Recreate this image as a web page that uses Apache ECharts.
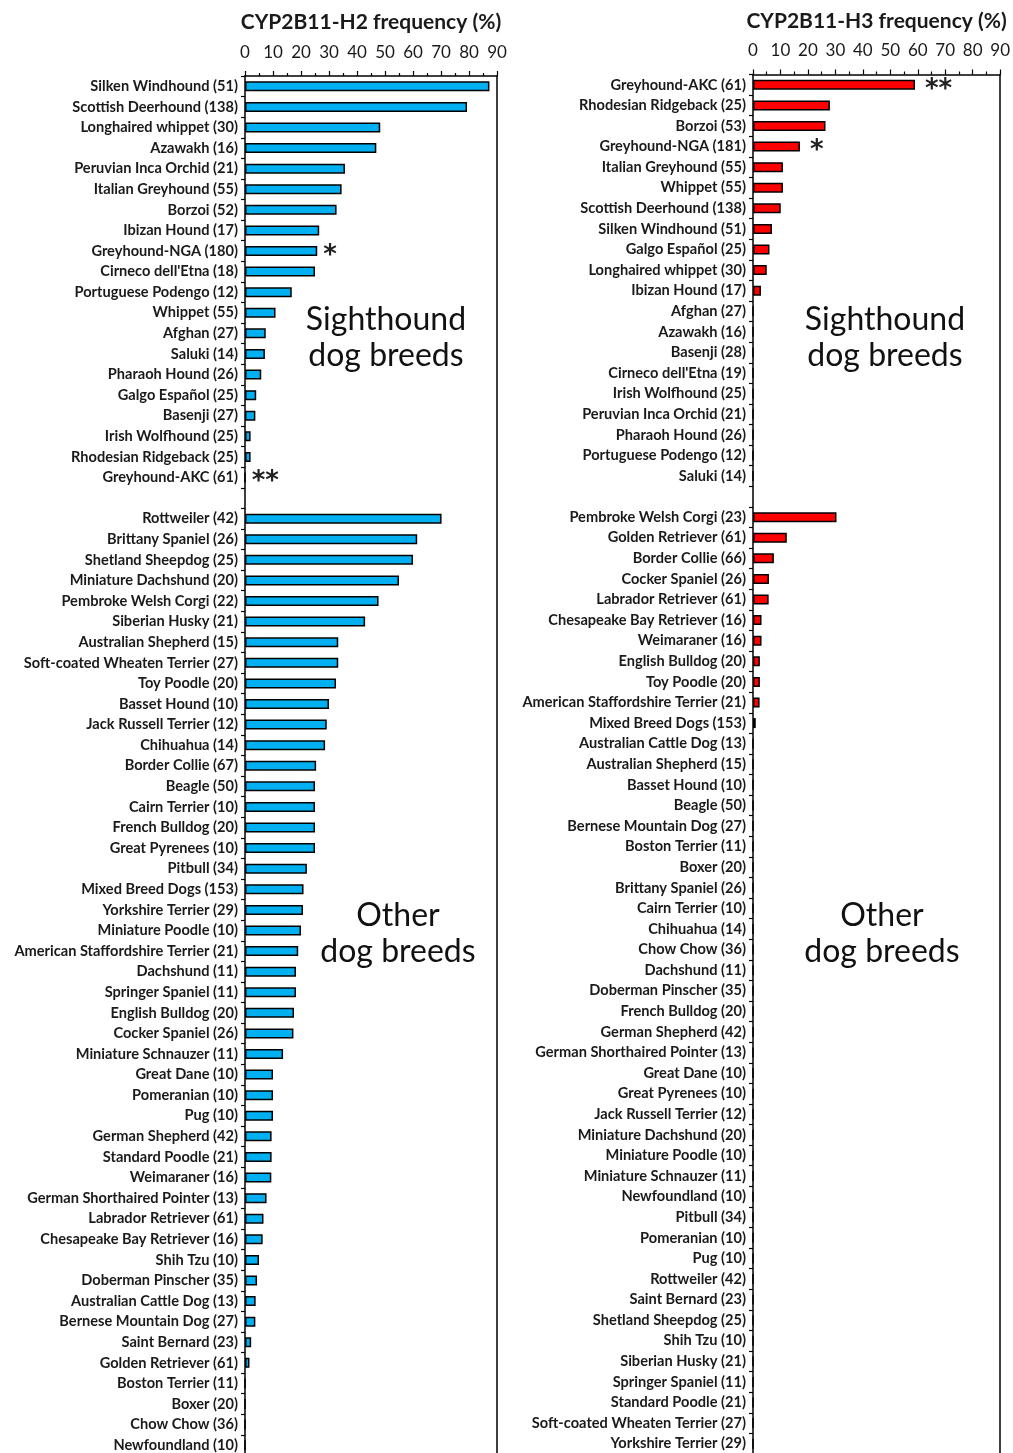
<!DOCTYPE html>
<html><head><meta charset="utf-8">
<script src="https://cdn.jsdelivr.net/npm/echarts/dist/echarts.min.js"></script>
<style>html,body{margin:0;padding:0;background:#fff;overflow:hidden}#c{width:1013px;height:1460px}</style>
</head><body><div id="c"></div><script>
// ---- Data: CYP2B11-H2 ----
const h2SightCats = ['Silken Windhound (51)','Scottish Deerhound (138)','Longhaired whippet (30)','Azawakh (16)','Peruvian Inca Orchid (21)','Italian Greyhound (55)','Borzoi (52)','Ibizan Hound (17)','Greyhound-NGA (180)',"Cirneco dell'Etna (18)",'Portuguese Podengo (12)','Whippet (55)','Afghan (27)','Saluki (14)','Pharaoh Hound (26)','Galgo Español (25)','Basenji (27)','Irish Wolfhound (25)','Rhodesian Ridgeback (25)','Greyhound-AKC (61)'];
const h2SightVals = [87.3,79.3,48.3,46.9,35.7,34.5,32.7,26.5,25.8,25.0,16.7,10.9,7.4,7.1,5.8,4.0,3.7,2.0,2.0,0];
const h2OtherCats = ['Rottweiler (42)','Brittany Spaniel (26)','Shetland Sheepdog (25)','Miniature Dachshund (20)','Pembroke Welsh Corgi (22)','Siberian Husky (21)','Australian Shepherd (15)','Soft-coated Wheaten Terrier (27)','Toy Poodle (20)','Basset Hound (10)','Jack Russell Terrier (12)','Chihuahua (14)','Border Collie (67)','Beagle (50)','Cairn Terrier (10)','French Bulldog (20)','Great Pyrenees (10)','Pitbull (34)','Mixed Breed Dogs (153)','Yorkshire Terrier (29)','Miniature Poodle (10)','American Staffordshire Terrier (21)','Dachshund (11)','Springer Spaniel (11)','English Bulldog (20)','Cocker Spaniel (26)','Miniature Schnauzer (11)','Great Dane (10)','Pomeranian (10)','Pug (10)','German Shepherd (42)','Standard Poodle (21)','Weimaraner (16)','German Shorthaired Pointer (13)','Labrador Retriever (61)','Chesapeake Bay Retriever (16)','Shih Tzu (10)','Doberman Pinscher (35)','Australian Cattle Dog (13)','Bernese Mountain Dog (27)','Saint Bernard (23)','Golden Retriever (61)','Boston Terrier (11)','Boxer (20)','Chow Chow (36)','Newfoundland (10)'];
const h2OtherVals = [70.2,61.5,60.0,55.0,47.7,42.9,33.3,33.3,32.5,30.0,29.2,28.6,25.4,25.0,25.0,25.0,25.0,22.1,20.9,20.7,20.0,19.0,18.2,18.2,17.5,17.3,13.6,10.0,10.0,10.0,9.5,9.5,9.4,7.7,6.6,6.3,5.0,4.3,3.8,3.7,2.2,1.6,0,0,0,0];
const h2Marks = {'Greyhound-NGA (180)':'*','Greyhound-AKC (61)':'**'};

// ---- Data: CYP2B11-H3 ----
const h3SightCats = ['Greyhound-AKC (61)','Rhodesian Ridgeback (25)','Borzoi (53)','Greyhound-NGA (181)','Italian Greyhound (55)','Whippet (55)','Scottish Deerhound (138)','Silken Windhound (51)','Galgo Español (25)','Longhaired whippet (30)','Ibizan Hound (17)','Afghan (27)','Azawakh (16)','Basenji (28)',"Cirneco dell'Etna (19)",'Irish Wolfhound (25)','Peruvian Inca Orchid (21)','Pharaoh Hound (26)','Portuguese Podengo (12)','Saluki (14)'];
const h3SightVals = [59.0,28.0,26.4,17.1,10.9,10.9,10.1,6.9,6.0,5.0,2.9,0,0,0,0,0,0,0,0,0];
const h3OtherCats = ['Pembroke Welsh Corgi (23)','Golden Retriever (61)','Border Collie (66)','Cocker Spaniel (26)','Labrador Retriever (61)','Chesapeake Bay Retriever (16)','Weimaraner (16)','English Bulldog (20)','Toy Poodle (20)','American Staffordshire Terrier (21)','Mixed Breed Dogs (153)','Australian Cattle Dog (13)','Australian Shepherd (15)','Basset Hound (10)','Beagle (50)','Bernese Mountain Dog (27)','Boston Terrier (11)','Boxer (20)','Brittany Spaniel (26)','Cairn Terrier (10)','Chihuahua (14)','Chow Chow (36)','Dachshund (11)','Doberman Pinscher (35)','French Bulldog (20)','German Shepherd (42)','German Shorthaired Pointer (13)','Great Dane (10)','Great Pyrenees (10)','Jack Russell Terrier (12)','Miniature Dachshund (20)','Miniature Poodle (10)','Miniature Schnauzer (11)','Newfoundland (10)','Pitbull (34)','Pomeranian (10)','Pug (10)','Rottweiler (42)','Saint Bernard (23)','Shetland Sheepdog (25)','Shih Tzu (10)','Siberian Husky (21)','Springer Spaniel (11)','Standard Poodle (21)','Soft-coated Wheaten Terrier (27)','Yorkshire Terrier (29)'];
const h3OtherVals = [30.4,12.3,7.6,5.8,5.7,3.1,3.1,2.5,2.5,2.4,1.0,0,0,0,0,0,0,0,0,0,0,0,0,0,0,0,0,0,0,0,0,0,0,0,0,0,0,0,0,0,0,0,0,0,0,0];
const h3Marks = {'Greyhound-AKC (61)':'**','Greyhound-NGA (181)':'*'};

const tickLabels = ['0','10','20','30','40','50','60','70','80','90'];
const titles = ['CYP2B11-H2 frequency (%)','CYP2B11-H3 frequency (%)'];
const groupNames = ['Sighthound\ndog breeds','Other\ndog breeds'];

// ---- build ----
const FONT = 'Lato, "Open Sans", sans-serif';
function cats(a,b){ return a.concat(['']).concat(b); }
function vals(cs, a, b, marks, distance){
  const all = a.concat(['-']).concat(b);
  return all.map((v,i)=>{
    const name = cs[i];
    if (marks[name]) {
      return {value:v, label:{show:true, formatter:marks[name], position:'right', distance:distance,
        fontSize:26, fontWeight:'bold', fontFamily:'"DejaVu Sans", sans-serif', color:'#222', offset:[0,5]}};
    }
    return v;
  });
}
const c2 = cats(h2SightCats,h2OtherCats), c3 = cats(h3SightCats,h3OtherCats);
const v2 = vals(c2, h2SightVals, h2OtherVals, h2Marks, 6);
const v3 = vals(c3, h3SightVals, h3OtherVals, h3Marks, 10);

const grids = [
  {left:245, top:76, width:252, height:1379.5},
  {left:753, top:74.5, width:249, height:1379.5}
];
function xAx(i){
  return {type:'value', gridIndex:i, position:'top', min:0, max:90, interval:10,
    name:titles[i], nameLocation:'middle', nameGap:43,
    nameTextStyle:{fontFamily:FONT, fontWeight:'bold', fontSize:21, color:'#1a1a1a'},
    axisLine:{show:true, lineStyle:{color:'#000', width:1.5}},
    axisTick:{show:true, inside:false, length:5, lineStyle:{color:'#000', width:1.2}},
    minorTick:{show:true, splitNumber:2, length:3, lineStyle:{color:'#000', width:1.2}},
    splitLine:{show:false},
    axisLabel:{fontFamily:FONT, fontSize:17, color:'#1a1a1a', margin:15,
      formatter:(v)=>tickLabels[Math.round(v/10)]}
  };
}
function yAx(i, data){
  return {type:'category', gridIndex:i, inverse:true, data:data,
    axisLine:{show:true, lineStyle:{color:'#000', width:1.5}},
    axisTick:{show:true, inside:false, length:4, lineStyle:{color:'#000', width:1.2}},
    axisLabel:{fontFamily:FONT, fontWeight:'bold', fontSize:14.6, color:'#1a1a1a', margin:7, interval:0},
    splitLine:{show:false}
  };
}
function yBorder(i, data){
  return {type:'category', gridIndex:i, inverse:true, position:'right', data:data,
    axisLine:{show:true, lineStyle:{color:'#000', width:1.5}},
    axisTick:{show:false}, axisLabel:{show:false}, splitLine:{show:false}};
}

const option = {
  animation:false,
  backgroundColor:'#fff',
  grid: grids,
  xAxis:[xAx(0), xAx(1)],
  yAxis:[yAx(0,c2), yAx(1,c3), yBorder(0,c2), yBorder(1,c3)],
  series:[
    {type:'bar', xAxisIndex:0, yAxisIndex:0, data:v2, barWidth:10,
     itemStyle:{color:'#00B0F0', borderColor:'#000', borderWidth:1.5}},
    {type:'bar', xAxisIndex:1, yAxisIndex:1, data:v3, barWidth:10,
     itemStyle:{color:'#FF0000', borderColor:'#000', borderWidth:1.5}}
  ],
  graphic:[
    {type:'text', x:386, y:338, style:{text:groupNames[0], align:'center', verticalAlign:'middle', fontFamily:FONT, fontSize:32, lineHeight:36, fill:'#111'}},
    {type:'text', x:398, y:934, style:{text:groupNames[1], align:'center', verticalAlign:'middle', fontFamily:FONT, fontSize:32, lineHeight:36, fill:'#111'}},
    {type:'text', x:885, y:338, style:{text:groupNames[0], align:'center', verticalAlign:'middle', fontFamily:FONT, fontSize:32, lineHeight:36, fill:'#111'}},
    {type:'text', x:882, y:934, style:{text:groupNames[1], align:'center', verticalAlign:'middle', fontFamily:FONT, fontSize:32, lineHeight:36, fill:'#111'}}
  ]
};
const chart = echarts.init(document.getElementById('c'), null, {renderer:'canvas'});
chart.setOption(option);
</script></body></html>
